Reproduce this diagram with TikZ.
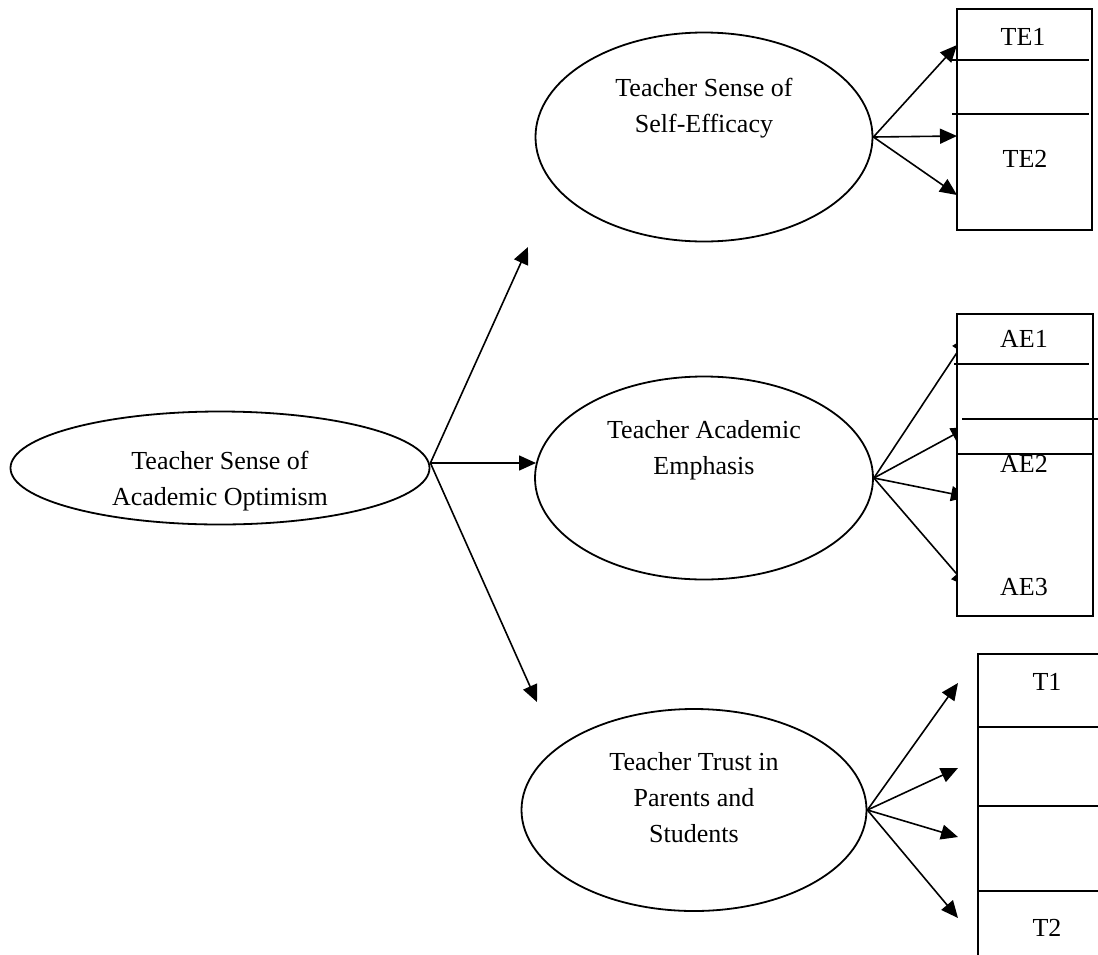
\documentclass[tikz,border=0pt]{standalone}
\usepackage{fontspec}
\setmainfont{Liberation Serif}
\usetikzlibrary{shapes.geometric,arrows.meta}

\begin{document}
\begin{tikzpicture}[x=1pt,y=-1pt,
    construct/.style={ellipse,draw,line width=1.8pt,inner sep=0pt},
    words/.style={font=\fontsize{26}{36}\selectfont,align=center},
    box/.style={line width=1.8pt},
    path/.style={-{Triangle[length=17pt,width=15pt]},line width=1.6pt}]
    \clip (0,0) rectangle (1098,954);

    % Constructs
    \node [construct,minimum width=419pt,minimum height=113pt,
      label={[words,yshift=-13pt]center:Teacher Sense of\\Academic Optimism}] (tsao) at (220,468) {};
    \node [construct,minimum width=337pt,minimum height=209pt,
      label={[words,yshift=29pt]center:Teacher Sense of\\Self-Efficacy}] (tse) at (704,137) {};
    \node [construct,minimum width=338pt,minimum height=203pt,
      label={[words,yshift=28pt]center:Teacher Academic\\Emphasis}] (tae) at (704,478) {};
    \node [construct,minimum width=345pt,minimum height=202pt,
      label={[words,yshift=12pt]center:Teacher Trust in\\Parents and\\Students}] (ttps) at (694,810) {};

    % Paths from optimism
    \coordinate (pSE) at (528,247);
    \coordinate (pAE) at (536,463);
    \coordinate (pTR) at (537,702);
    \draw [path] ([yshift=5pt]tsao.east) -- (pSE);
    \draw [path] ([yshift=5pt]tsao.east) -- (pAE);
    \draw [path] ([yshift=5pt]tsao.east) -- (pTR);

    % Self-efficacy items
    \coordinate (se1) at (957,45);
    \coordinate (se2) at (957,136);
    \coordinate (se3) at (957,195);
    \draw [path] (tse.east) -- (se1);
    \draw [path] (tse.east) -- (se2);
    \draw [path] (tse.east) -- (se3);
    \draw [box] (957,9) rectangle (1092,230);
    \draw [box] (952,60) -- (1089,60);
    \draw [box] (952,114) -- (1089,114);
    \node [words] (te1) at (1023,37) {TE1};
    \node [words] (te2) at (1025,159) {TE2};

    % Academic emphasis items
    \coordinate (ae1) at (968,336);
    \coordinate (ae2) at (968,427);
    \coordinate (ae3) at (968,497);
    \coordinate (ae4) at (968,587);
    \draw [path] (tae.east) -- (ae1);
    \draw [path] (tae.east) -- (ae2);
    \draw [path] (tae.east) -- (ae3);
    \draw [path] (tae.east) -- (ae4);
    \draw [box,fill=white] (957,314) rectangle (1093,616);
    \draw [box] (954,364) -- (1089,364);
    \draw [box] (962,419) -- (1098,419);
    \draw [box] (957,454) -- (1093,454);
    \node [words] (aei) at (1024,339) {AE1};
    \node [words] (aeii) at (1024,464) {AE2};
    \node [words] (aeiii) at (1024,587) {AE3};

    % Trust items
    \coordinate (tr1) at (958,683);
    \coordinate (tr2) at (958,768);
    \coordinate (tr3) at (958,837);
    \coordinate (tr4) at (958,918);
    \draw [path] (ttps.east) -- (tr1);
    \draw [path] (ttps.east) -- (tr2);
    \draw [path] (ttps.east) -- (tr3);
    \draw [path] (ttps.east) -- (tr4);
    \draw [box] (978,654) rectangle (1110,970);
    \draw [box] (978,727) -- (1110,727);
    \draw [box] (978,806) -- (1110,806);
    \draw [box] (978,891) -- (1110,891);
    \node [words] (t1) at (1047,682) {T1};
    \node [words] (t2) at (1047,928) {T2};
\end{tikzpicture}
\end{document}
